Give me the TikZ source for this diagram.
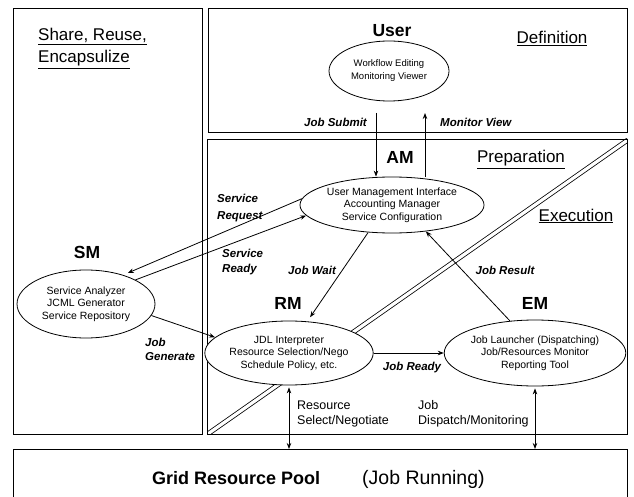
\documentclass[tikz,border=0pt]{standalone}
\usepackage{fontspec}
\setmainfont{Liberation Sans}
\usetikzlibrary{shapes.geometric,arrows.meta}

\begin{document}
\begin{tikzpicture}[x=1pt,y=-1pt,
  frame/.style={draw, line width=0.8pt},
  oval/.style={ellipse, draw, fill=white, line width=0.8pt, inner sep=0pt,
    align=center, font=\fontsize{10.5}{12.5}\selectfont},
  tag/.style={font=\fontsize{17.5}{20}\selectfont\bfseries, inner sep=0pt, anchor=base},
  heading/.style={font=\fontsize{17}{20}\selectfont, inner sep=0pt},
  flowlbl/.style={font=\fontsize{11.5}{14}\selectfont\bfseries\itshape, inner sep=0pt},
  note/.style={font=\fontsize{12.5}{15}\selectfont, inner sep=0pt, anchor=base west},
  conn/.style={line width=0.8pt, -{Stealth[length=6pt,width=4.5pt]}},
  bothway/.style={line width=0.8pt, {Stealth[length=6pt,width=4.5pt]}-{Stealth[length=6pt,width=4.5pt]}},
]
\useasboundingbox (0,0) rectangle (634,497);
\clip (0,0) rectangle (634,497);

% ---- double diagonal splitting preparation / execution ----
\begin{scope}
  \clip (207,139) rectangle (627,434);
  \draw[line width=0.8pt, double, double distance=3.2pt] (197,441.5) -- (637,133.5);
\end{scope}

% ---- region frames ----
\draw[frame] (13,8) rectangle (202,434);
\draw[frame] (208,8) rectangle (627,132);
\draw[frame] (207,139) rectangle (627,434);
\node[frame, anchor=north west, minimum width=614pt, minimum height=80pt, inner sep=0pt] (grid) at (13,449) {};

% ---- region headings ----
\node[heading, anchor=base west] (share) at (38,41) {\underline{Share, Reuse,}};
\node[heading, anchor=base west] (encap) at (38,63) {\underline{Encapsulize}};
\node[heading, anchor=base] (defin) at (552,44) {\underline{Definition}};
\node[heading, anchor=base] (prep) at (521,163) {\underline{Preparation}};
\node[heading, anchor=base] (exec) at (576,221) {\underline{Execution}};

% ---- component titles ----
\node[tag] (userT) at (392,37) {User};
\node[tag] (amT) at (400,163.5) {AM};
\node[tag] (smT) at (87,258.5) {SM};
\node[tag] (rmT) at (288,309.5) {RM};
\node[tag] (emT) at (535,309.5) {EM};

% ---- components ----
\node[oval, minimum width=120pt, minimum height=60pt, font=\fontsize{9.5}{13}\selectfont] (usr) at (389,71)
  {Workflow Editing\\Monitoring Viewer};
\node[oval, minimum width=144pt, minimum height=56pt] (am) at (392,205)
  {User Management Interface\\Accounting Manager\\Service Configuration};
\node[oval, minimum width=138pt, minimum height=68pt] (sm) at (86,304)
  {Service Analyzer\\JCML Generator\\Service Repository};
\node[oval, minimum width=144pt, minimum height=64pt] (rm) at (289,353)
  {JDL Interpreter\\Resource Selection/Nego\\Schedule Policy, etc.};
\node[oval, minimum width=148pt, minimum height=66pt] (em) at (535,353)
  {Job Launcher (Dispatching)\\Job/Resources Monitor\\Reporting Tool};

% ---- flow labels ----
\node[flowlbl, anchor=base east] (jsub) at (367,127) {Job Submit};
\node[flowlbl, anchor=base west] (mview) at (440,127) {Monitor View};
\node[flowlbl, anchor=base west] (sreqA) at (217,202) {Service};
\node[flowlbl, anchor=base west] (sreqB) at (217,219) {Request};
\node[flowlbl, anchor=base west] (srdyA) at (222,257) {Service};
\node[flowlbl, anchor=base west] (srdyB) at (222,272) {Ready};
\node[flowlbl, anchor=base] (jwait) at (312,274) {Job Wait};
\node[flowlbl, anchor=base] (jres) at (505,274) {Job Result};
\node[flowlbl, anchor=base west] (jgenA) at (145,346) {Job};
\node[flowlbl, anchor=base west] (jgenB) at (145,360) {Generate};
\node[flowlbl, anchor=base] (jready) at (412,370) {Job Ready};

\node[note] (rselA) at (297,409.5) {Resource};
\node[note] (rselB) at (297,424.5) {Select/Negotiate};
\node[note] (jdisA) at (418,409.5) {Job};
\node[note] (jdisB) at (418,424.5) {Dispatch/Monitoring};

\node[font=\fontsize{18}{22}\selectfont\bfseries, inner sep=0pt, anchor=base west] (pool) at (152,484) {Grid Resource Pool};
\node[font=\fontsize{19.5}{22}\selectfont, inner sep=0pt, anchor=base west] (running) at (362,484) {(Job Running)};

% ---- connectors ----
\coordinate (jsTop) at (376,113);
\coordinate (mvTop) at (425,113);
\draw[conn] (jsTop) -- (jsTop |- am.north);
\draw[conn] (mvTop |- am.north) -- (mvTop);
\draw[conn, shorten >=5pt] (am.176) -- (sm.38);
\draw[conn] (sm.26) -- (am.187);
\draw[conn] (sm.350) -- (rm.168);
\draw[conn, shorten >=5pt] (am.229) -- (rm.60);
\draw[conn] (em.128) -- (am.322);
\draw[conn] (rm.east) -- (em.west);
\draw[bothway] ([yshift=-2pt]rm.south) -- (rm.south |- grid.north);
\draw[bothway] ([yshift=-2pt]em.south) -- (em.south |- grid.north);
\end{tikzpicture}
\end{document}
